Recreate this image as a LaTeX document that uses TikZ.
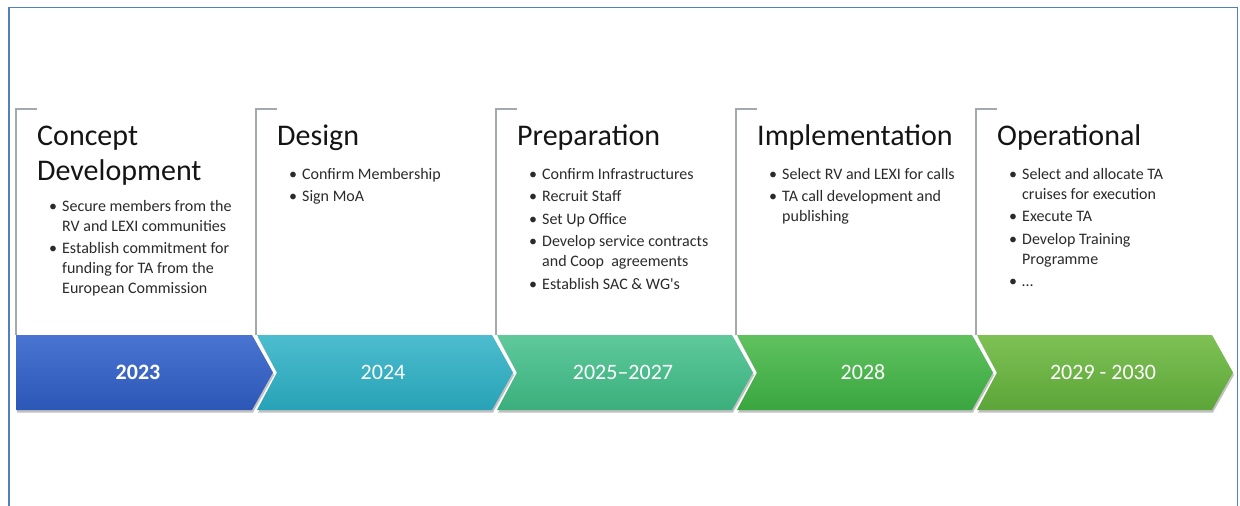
\documentclass[tikz,border=0pt]{standalone}
\usepackage{fontspec}
\setmainfont{Carlito}
\usetikzlibrary{shadows}
\definecolor{framecol}{HTML}{4F81BD}
\definecolor{bracketcol}{HTML}{A3A9AE}
\definecolor{titlecol}{HTML}{141414}
\definecolor{itemcol}{HTML}{2A2A2A}
\definecolor{cAt}{HTML}{4A74D2}\definecolor{cAb}{HTML}{2D57B6}
\definecolor{cBt}{HTML}{4CBDCE}\definecolor{cBb}{HTML}{28A2B6}
\definecolor{cCt}{HTML}{5FC99C}\definecolor{cCb}{HTML}{3AAF7C}
\definecolor{cDt}{HTML}{5FC25E}\definecolor{cDb}{HTML}{3AA63F}
\definecolor{cEt}{HTML}{7EC155}\definecolor{cEb}{HTML}{5CA538}
\newcommand{\bu}{\llap{\textbullet\hspace{5pt}}}
\tikzset{
  chev/.style={drop shadow={shadow xshift=1pt,shadow yshift=-2.5pt,opacity=0.35,fill=black!70}},
  bracket/.style={draw=bracketcol, line width=1.3pt},
  ttl/.style={anchor=north west, inner sep=0pt, font=\fontsize{30}{35}\selectfont, align=left, text=titlecol},
  items/.style={anchor=north west, inner sep=0pt, font=\fontsize{16}{20}\selectfont, align=left, text=itemcol},
  yr/.style={text=white, inner sep=0pt, font=\fontsize{22}{26}\selectfont}
}
\begin{document}
\begin{tikzpicture}[x=1pt,y=-1pt]
\useasboundingbox (0,0) rectangle (1240,506);
% frame
\draw[framecol, line width=1.8pt] (9,506) -- (9,7.5) -- (1237.5,7.5) -- (1237.5,506);
% brackets
\foreach \i in {0,...,4}{
  \draw[bracket] (16+240*\i+21,109) -- (16+240*\i,109) -- (16+240*\i,335);
}
% chevrons
\path[chev, top color=cAt, bottom color=cAb]
  (16,335) -- (252,335) -- (273,372.5) -- (252,410) -- (16,410) -- cycle;
\foreach \i/\ct/\cb in {1/cBt/cBb,2/cCt/cCb,3/cDt/cDb,4/cEt/cEb}{
  \path[chev, top color=\ct, bottom color=\cb]
    (16+240*\i+1,335) -- (16+240*\i+236,335) -- (16+240*\i+257,372.5) -- (16+240*\i+236,410)
    -- (16+240*\i+1,410) -- (16+240*\i+21,372.5) -- cycle;
}
% years
\node[yr, font=\fontsize{22}{26}\selectfont\bfseries] (y1) at (138,372.5) {2023};
\node[yr] (y2) at (383,372.5) {2024};
\node[yr] (y3) at (623,372.5) {2025--2027};
\node[yr] (y4) at (863,372.5) {2028};
\node[yr] (y5) at (1103,372.5) {2029 - 2030};
% titles (top = baseline - 24.5)
\node[ttl] (t1) at (37,120.5) {\strut Concept\\Development};
\node[ttl] (t2) at (277,120.5) {\strut Design};
\node[ttl] (t3) at (517,120.5) {\strut Preparation};
\node[ttl] (t4) at (757,120.5) {\strut Implementation};
\node[ttl] (t5) at (997,120.5) {\strut Operational};
% items (top = baseline - 14)
\node[items] (i1) at (62,197) {\strut\bu Secure members from the\\RV and LEXI communities\\[2.5pt]\bu Establish commitment for\\funding for TA from the\\European Commission};
\node[items] (i2) at (302,165) {\strut\bu Confirm Membership\\[2.5pt]\bu Sign MoA};
\node[items] (i3) at (542,165) {\strut\bu Confirm Infrastructures\\[2.5pt]\bu Recruit Staff\\[2.5pt]\bu Set Up Office\\[2.5pt]\bu Develop service contracts\\and Coop\ \ agreements\\[2.5pt]\bu Establish SAC \& WG\textquotesingle s};
\node[items] (i4) at (782,165) {\strut\bu Select RV and LEXI for calls\\[2.5pt]\bu TA call development and\\publishing};
\node[items] (i5) at (1022,165) {\strut\bu Select and allocate TA\\cruises for execution\\[2.5pt]\bu Execute TA\\[2.5pt]\bu Develop Training\\Programme\\[2.5pt]\bu \dots};
\end{tikzpicture}
\end{document}
